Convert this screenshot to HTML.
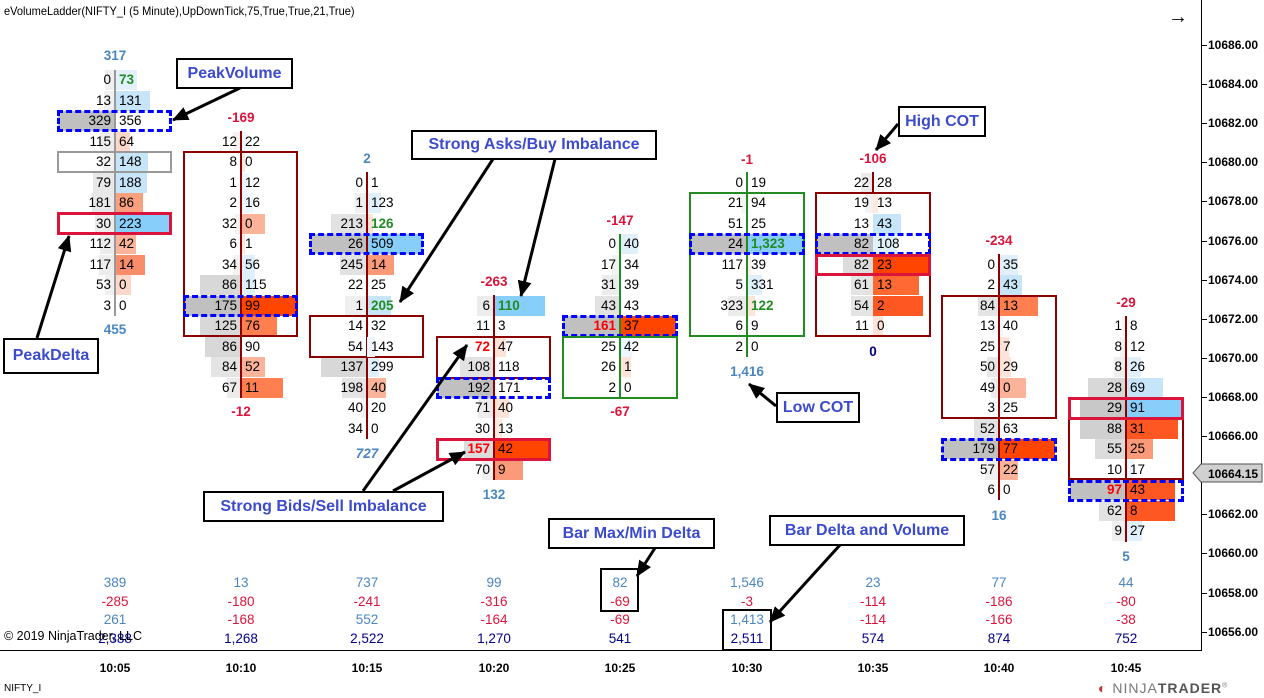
<!DOCTYPE html>
<html><head><meta charset="utf-8"><style>
body{margin:0;width:1264px;height:698px;background:#fff;position:relative;overflow:hidden;font-family:"Liberation Sans",Arial,sans-serif;}
.t{position:absolute;font-size:12px;color:#000;white-space:nowrap}
.c{position:absolute;top:0;width:120px;height:600px}
.r{position:absolute;left:0;width:120px;height:20px;font-size:13.5px;line-height:20px}
.r i{position:absolute;top:0;height:20px}
.bb{right:60px}.ab{left:60px}
.bt{position:absolute;right:64px}.at{position:absolute;left:64px}
.ln{position:absolute;left:59px;width:2px;z-index:3}
.bx{position:absolute;left:2px;width:110px;box-sizing:border-box;z-index:4}
.lb{position:absolute;width:120px;text-align:center;font-weight:bold;font-size:13.5px}
.g{color:#228b22;font-weight:bold}.rd{color:#f00;font-weight:bold}
.cb{position:absolute;border:2px solid #000;background:#fff;color:#3b4bcc;font-weight:bold;font-size:16px;box-sizing:border-box;text-align:center}
.s{position:absolute;width:120px;text-align:center;font-size:13.5px}
.bl{color:#4a86c0}.re{color:#dc143c}.nv{color:#00008b}
.pl{position:absolute;left:1208px;font-size:12px;font-weight:bold}
.tk{position:absolute;left:1202px;width:5px;height:1px;background:#000}
.tm{position:absolute;font-size:12px;font-weight:bold;width:60px;text-align:center;top:661px}
</style></head><body>
<div class="t" style="left:4px;top:4px;transform:scaleX(0.92);transform-origin:left">eVolumeLadder(NIFTY_I (5 Minute),UpDownTick,75,True,True,21,True)</div>
<div class="t" style="left:1168px;top:6px;font-size:20px">→</div>

<div style="position:absolute;left:1201px;top:0;width:1px;height:650px;background:#000"></div>
<div style="position:absolute;left:0;top:650px;width:1202px;height:1px;background:#000"></div>
<div class="tk" style="top:45px"></div><div class="pl" style="top:38px">10686.00</div>
<div class="tk" style="top:84px"></div><div class="pl" style="top:77px">10684.00</div>
<div class="tk" style="top:123px"></div><div class="pl" style="top:116px">10682.00</div>
<div class="tk" style="top:162px"></div><div class="pl" style="top:155px">10680.00</div>
<div class="tk" style="top:201px"></div><div class="pl" style="top:194px">10678.00</div>
<div class="tk" style="top:241px"></div><div class="pl" style="top:234px">10676.00</div>
<div class="tk" style="top:280px"></div><div class="pl" style="top:273px">10674.00</div>
<div class="tk" style="top:319px"></div><div class="pl" style="top:312px">10672.00</div>
<div class="tk" style="top:358px"></div><div class="pl" style="top:351px">10670.00</div>
<div class="tk" style="top:397px"></div><div class="pl" style="top:390px">10668.00</div>
<div class="tk" style="top:436px"></div><div class="pl" style="top:429px">10666.00</div>
<div class="tk" style="top:514px"></div><div class="pl" style="top:507px">10662.00</div>
<div class="tk" style="top:553px"></div><div class="pl" style="top:546px">10660.00</div>
<div class="tk" style="top:593px"></div><div class="pl" style="top:586px">10658.00</div>
<div class="tk" style="top:632px"></div><div class="pl" style="top:625px">10656.00</div>
<svg style="position:absolute;left:1192px;top:462px" width="72" height="22"><polygon points="1,11 9,2 70,2 70,20 9,20" fill="#d0d0d0" stroke="#555"/><text x="16" y="16" font-family="Liberation Sans" font-size="12" font-weight="bold">10664.15</text></svg>

<!-- Col1 -->
<div class="c" style="left:55px">
<div class="lb bl" style="top:48px">317</div>
<div class="ln" style="top:70px;height:246px;background:#999"></div>
<div class="r" style="top:70px"><i class="bb" style="width:10px;background:#f0f0f0"></i><i class="ab" style="width:22px;background:#e2f1fc"></i><span class="bt">0</span><span class="at g">73</span></div>
<div class="r" style="top:90.5px"><i class="bb" style="width:11px;background:#f0f0f0"></i><i class="ab" style="width:35px;background:#c6e5f9"></i><span class="bt">13</span><span class="at">131</span></div>
<div class="r" style="top:111px"><i class="bb" style="width:57px;background:#c0c0c0"></i><span class="bt">329</span><span class="at">356</span></div>
<div class="r" style="top:131.5px"><i class="bb" style="width:15px;background:#ececec"></i><i class="ab" style="width:15px;background:#fcd8ca"></i><span class="bt">115</span><span class="at">64</span></div>
<div class="r" style="top:152px"><i class="bb" style="width:12px;background:#f0f0f0"></i><i class="ab" style="width:33px;background:#c6e5f9"></i><span class="bt">32</span><span class="at">148</span></div>
<div class="r" style="top:172.5px"><i class="bb" style="width:22px;background:#e8e8e8"></i><i class="ab" style="width:32px;background:#c6e5f9"></i><span class="bt">79</span><span class="at">188</span></div>
<div class="r" style="top:193px"><i class="bb" style="width:23px;background:#e8e8e8"></i><i class="ab" style="width:28px;background:#f9a07e"></i><span class="bt">181</span><span class="at">86</span></div>
<div class="r" style="top:213.5px"><i class="bb" style="width:20px;background:#ececec"></i><i class="ab" style="width:55px;background:#87cefa"></i><span class="bt">30</span><span class="at">223</span></div>
<div class="r" style="top:234px"><i class="bb" style="width:15px;background:#ececec"></i><i class="ab" style="width:21px;background:#fbb49a"></i><span class="bt">112</span><span class="at">42</span></div>
<div class="r" style="top:254.5px"><i class="bb" style="width:16px;background:#ececec"></i><i class="ab" style="width:30px;background:#f98d6a"></i><span class="bt">117</span><span class="at">14</span></div>
<div class="r" style="top:275px"><i class="bb" style="width:10px;background:#f0f0f0"></i><i class="ab" style="width:16px;background:#fcd8ca"></i><span class="bt">53</span><span class="at">0</span></div>
<div class="r" style="top:295.5px"><span class="bt">3</span><span class="at">0</span></div>
<div class="bx" style="top:110px;height:22px;border:3px dashed #0000ff;width:115px"></div>
<div class="bx" style="top:151px;height:22px;border:2px solid #999;width:115px"></div>
<div class="bx" style="top:212px;height:23px;border:3px solid #dc143c;width:115px"></div>
<div class="lb bl" style="top:322px">455</div>
</div>

<!-- Col2 -->
<div class="c" style="left:181px">
<div class="lb re" style="top:110px">-169</div>
<div class="ln" style="top:131px;height:267px;background:#8b0000"></div>
<div class="r" style="top:131.5px"><i class="bb" style="width:8px;background:#f2f2f2"></i><i class="ab" style="width:6px;background:#eef7fd"></i><span class="bt">12</span><span class="at">22</span></div>
<div class="r" style="top:152px"><i class="ab" style="width:4px;background:#fde9e0"></i><span class="bt">8</span><span class="at">0</span></div>
<div class="r" style="top:172.5px"><i class="ab" style="width:8px;background:#eef7fd"></i><span class="bt">1</span><span class="at">12</span></div>
<div class="r" style="top:193px"><i class="ab" style="width:12px;background:#eef7fd"></i><span class="bt">2</span><span class="at">16</span></div>
<div class="r" style="top:213.5px"><i class="bb" style="width:6px;background:#f2f2f2"></i><i class="ab" style="width:24px;background:#fbb49a"></i><span class="bt">32</span><span class="at">0</span></div>
<div class="r" style="top:234px"><i class="ab" style="width:4px;background:#fde9e0"></i><span class="bt">6</span><span class="at">1</span></div>
<div class="r" style="top:254.5px"><i class="bb" style="width:8px;background:#f2f2f2"></i><i class="ab" style="width:14px;background:#dff0fb"></i><span class="bt">34</span><span class="at">56</span></div>
<div class="r" style="top:275px"><i class="bb" style="width:41px;background:#d8d8d8"></i><i class="ab" style="width:14px;background:#dff0fb"></i><span class="bt">86</span><span class="at">115</span></div>
<div class="r" style="top:295.5px"><i class="bb" style="width:56px;background:#c0c0c0"></i><i class="ab" style="width:55px;background:#ff4500"></i><span class="bt">175</span><span class="at">99</span></div>
<div class="r" style="top:316px"><i class="bb" style="width:41px;background:#d8d8d8"></i><i class="ab" style="width:36px;background:#ff7f50"></i><span class="bt">125</span><span class="at">76</span></div>
<div class="r" style="top:336.5px"><i class="bb" style="width:36px;background:#d8d8d8"></i><span class="bt">86</span><span class="at">90</span></div>
<div class="r" style="top:357px"><i class="bb" style="width:30px;background:#e4e4e4"></i><i class="ab" style="width:24px;background:#fbb49a"></i><span class="bt">84</span><span class="at">52</span></div>
<div class="r" style="top:377.5px"><i class="bb" style="width:14px;background:#ececec"></i><i class="ab" style="width:42px;background:#ff7f50"></i><span class="bt">67</span><span class="at">11</span></div>
<div class="bx" style="top:151px;height:186px;border:2px solid #8b0000;width:115px"></div>
<div class="bx" style="top:295px;height:22px;border:3px dashed #0000ff;width:115px"></div>
<div class="lb re" style="top:404px">-12</div>
</div>

<!-- Col3 -->
<div class="c" style="left:307px">
<div class="lb bl" style="top:151px">2</div>
<div class="ln" style="top:172px;height:267px;background:#8b0000"></div>
<div class="r" style="top:172.5px"><span class="bt">0</span><span class="at">1</span></div>
<div class="r" style="top:193px"><i class="bb" style="width:12px;background:#efefef"></i><i class="ab" style="width:14px;background:#dff0fb"></i><span class="bt">1</span><span class="at">123</span></div>
<div class="r" style="top:213.5px"><i class="bb" style="width:36px;background:#e2e2e2"></i><i class="ab" style="width:6px;background:#fde3d8"></i><span class="bt">213</span><span class="at g">126</span></div>
<div class="r" style="top:234px"><i class="bb" style="width:57px;background:#c0c0c0"></i><i class="ab" style="width:56px;background:#87cefa"></i><span class="bt">26</span><span class="at">509</span></div>
<div class="r" style="top:254.5px"><i class="bb" style="width:27px;background:#e2e2e2"></i><i class="ab" style="width:27px;background:#fa9a78"></i><span class="bt">245</span><span class="at">14</span></div>
<div class="r" style="top:275px"><span class="bt">22</span><span class="at">25</span></div>
<div class="r" style="top:295.5px"><i class="bb" style="width:22px;background:#efefef"></i><i class="ab" style="width:24px;background:#c6e5f9"></i><span class="bt">1</span><span class="at g">205</span></div>
<div class="r" style="top:316px;z-index:5"><span class="bt">14</span><span class="at">32</span></div>
<div class="r" style="top:336.5px;z-index:5"><i class="ab" style="width:8px;background:#eef7fd"></i><span class="bt">54</span><span class="at">143</span></div>
<div class="r" style="top:357px"><i class="bb" style="width:46px;background:#d8d8d8"></i><i class="ab" style="width:12px;background:#dff0fb"></i><span class="bt">137</span><span class="at">299</span></div>
<div class="r" style="top:377.5px"><i class="bb" style="width:25px;background:#e4e4e4"></i><i class="ab" style="width:19px;background:#fbb49a"></i><span class="bt">198</span><span class="at">40</span></div>
<div class="r" style="top:398px"><i class="bb" style="width:6px;background:#f2f2f2"></i><span class="bt">40</span><span class="at">20</span></div>
<div class="r" style="top:418.5px"><span class="bt">34</span><span class="at">0</span></div>
<div class="bx" style="top:233px;height:22px;border:3px dashed #0000ff;width:115px"></div>
<div class="bx" style="top:315px;height:43px;border:2px solid #8b0000;width:115px"></div>
<div class="lb bl" style="top:446px;font-style:italic">727</div>
</div>

<!-- Col4 -->
<div class="c" style="left:434px">
<div class="lb re" style="top:274px">-263</div>
<div class="ln" style="top:295px;height:185px;background:#8b0000"></div>
<div class="r" style="top:295.5px"><i class="bb" style="width:17px;background:#ececec"></i><i class="ab" style="width:51px;background:#87cefa"></i><span class="bt">6</span><span class="at g">110</span></div>
<div class="r" style="top:316px"><span class="bt">11</span><span class="at">3</span></div>
<div class="r" style="top:336.5px"><i class="ab" style="width:12px;background:#fde3d8"></i><span class="bt rd">72</span><span class="at">47</span></div>
<div class="r" style="top:357px"><i class="bb" style="width:34px;background:#e2e2e2"></i><span class="bt">108</span><span class="at">118</span></div>
<div class="r" style="top:377.5px"><i class="bb" style="width:57px;background:#c0c0c0"></i><span class="bt">192</span><span class="at">171</span></div>
<div class="r" style="top:398px"><i class="bb" style="width:16px;background:#ececec"></i><i class="ab" style="width:15px;background:#fde3d8"></i><span class="bt">71</span><span class="at">40</span></div>
<div class="r" style="top:418.5px"><i class="ab" style="width:8px;background:#fde9e0"></i><span class="bt">30</span><span class="at">13</span></div>
<div class="r" style="top:439px"><i class="bb" style="width:30px;background:#dcdcdc"></i><i class="ab" style="width:56px;background:#ff4500"></i><span class="bt rd">157</span><span class="at">42</span></div>
<div class="r" style="top:459.5px"><i class="bb" style="width:12px;background:#f0f0f0"></i><i class="ab" style="width:29px;background:#fa9a78"></i><span class="bt">70</span><span class="at">9</span></div>
<div class="bx" style="top:336px;height:43px;border:2px solid #8b0000;width:115px"></div>
<div class="bx" style="top:377px;height:22px;border:3px dashed #0000ff;width:115px"></div>
<div class="bx" style="top:438px;height:23px;border:3px solid #dc143c;width:115px"></div>
<div class="lb bl" style="top:487px">132</div>
</div>

<!-- Col5 -->
<div class="c" style="left:560px">
<div class="lb re" style="top:213px">-147</div>
<div class="ln" style="top:234px;height:164px;background:#228b22"></div>
<div class="r" style="top:234px"><i class="bb" style="width:4px;background:#f5f5f5"></i><i class="ab" style="width:18px;background:#dff0fb"></i><span class="bt">0</span><span class="at">40</span></div>
<div class="r" style="top:254.5px"><i class="bb" style="width:8px;background:#f2f2f2"></i><span class="bt">17</span><span class="at">34</span></div>
<div class="r" style="top:275px"><i class="bb" style="width:18px;background:#ececec"></i><span class="bt">31</span><span class="at">39</span></div>
<div class="r" style="top:295.5px"><i class="bb" style="width:25px;background:#e2e2e2"></i><span class="bt">43</span><span class="at">43</span></div>
<div class="r" style="top:316px"><i class="bb" style="width:57px;background:#c0c0c0"></i><i class="ab" style="width:56px;background:#ff4500"></i><span class="bt rd">161</span><span class="at">37</span></div>
<div class="r" style="top:336.5px"><i class="ab" style="width:12px;background:#eef7fd"></i><span class="bt">25</span><span class="at">42</span></div>
<div class="r" style="top:357px"><i class="ab" style="width:11px;background:#fde3d8"></i><span class="bt">26</span><span class="at">1</span></div>
<div class="r" style="top:377.5px"><span class="bt">2</span><span class="at">0</span></div>
<div class="bx" style="top:315px;height:22px;border:3px dashed #0000ff;width:116px"></div>
<div class="bx" style="top:336px;height:63px;border:2px solid #228b22;width:116px"></div>
<div class="lb re" style="top:404px">-67</div>
</div>

<!-- Col6 -->
<div class="c" style="left:687px">
<div class="lb re" style="top:152px">-1</div>
<div class="ln" style="top:172px;height:185px;background:#228b22"></div>
<div class="r" style="top:172.5px"><span class="bt">0</span><span class="at">19</span></div>
<div class="r" style="top:193px"><i class="bb" style="width:6px;background:#f5f5f5"></i><span class="bt">21</span><span class="at">94</span></div>
<div class="r" style="top:213.5px"><span class="bt">51</span><span class="at">25</span></div>
<div class="r" style="top:234px"><i class="bb" style="width:57px;background:#c0c0c0"></i><i class="ab" style="width:56px;background:#87cefa"></i><span class="bt">24</span><span class="at g">1,323</span></div>
<div class="r" style="top:254.5px"><i class="ab" style="width:4px;background:#fdeee8"></i><span class="bt">117</span><span class="at">39</span></div>
<div class="r" style="top:275px"><i class="ab" style="width:15px;background:#dff0fb"></i><span class="bt">5</span><span class="at">331</span></div>
<div class="r" style="top:295.5px"><i class="bb" style="width:19px;background:#ececec"></i><i class="ab" style="width:8px;background:#fde3d8"></i><span class="bt">323</span><span class="at g">122</span></div>
<div class="r" style="top:316px"><span class="bt">6</span><span class="at">9</span></div>
<div class="r" style="top:336.5px"><span class="bt">2</span><span class="at">0</span></div>
<div class="bx" style="top:192px;height:145px;border:2px solid #228b22;width:116px"></div>
<div class="bx" style="top:233px;height:22px;border:3px dashed #0000ff;width:116px"></div>
<div class="lb bl" style="top:364px">1,416</div>
</div>

<!-- Col7 -->
<div class="c" style="left:813px">
<div class="lb re" style="top:151px">-106</div>
<div class="ln" style="top:172px;height:20px;background:#8b0000"></div>
<div class="r" style="top:172.5px"><i class="bb" style="width:12px;background:#ececec"></i><span class="bt">22</span><span class="at">28</span></div>
<div class="r" style="top:193px"><i class="bb" style="width:8px;background:#f2f2f2"></i><i class="ab" style="width:5px;background:#fde9e0"></i><span class="bt">19</span><span class="at">13</span></div>
<div class="r" style="top:213.5px"><i class="ab" style="width:28px;background:#c6e5f9"></i><span class="bt">13</span><span class="at">43</span></div>
<div class="r" style="top:234px"><i class="bb" style="width:57px;background:#c0c0c0"></i><i class="ab" style="width:24px;background:#dff0fb"></i><span class="bt">82</span><span class="at">108</span></div>
<div class="r" style="top:254.5px"><i class="bb" style="width:30px;background:#dcdcdc"></i><i class="ab" style="width:56px;background:#ff4500"></i><span class="bt">82</span><span class="at">23</span></div>
<div class="r" style="top:275px"><i class="bb" style="width:22px;background:#e4e4e4"></i><i class="ab" style="width:46px;background:#ff6a33"></i><span class="bt">61</span><span class="at">13</span></div>
<div class="r" style="top:295.5px"><i class="bb" style="width:22px;background:#e4e4e4"></i><i class="ab" style="width:50px;background:#ff5722"></i><span class="bt">54</span><span class="at">2</span></div>
<div class="r" style="top:316px"><i class="ab" style="width:10px;background:#fde3d8"></i><span class="bt">11</span><span class="at">0</span></div>
<div class="bx" style="top:192px;height:145px;border:2px solid #8b0000;width:116px"></div>
<div class="bx" style="top:233px;height:22px;border:3px dashed #0000ff;width:116px"></div>
<div class="bx" style="top:254px;height:22px;border:3px solid #dc143c;width:116px"></div>
<div class="lb nv" style="top:344px">0</div>
</div>

<!-- Col8 -->
<div class="c" style="left:939px">
<div class="lb re" style="top:233px">-234</div>
<div class="ln" style="top:254px;height:246px;background:#8b0000"></div>
<div class="r" style="top:254.5px"><i class="ab" style="width:19px;background:#dff0fb"></i><span class="bt">0</span><span class="at">35</span></div>
<div class="r" style="top:275px"><i class="ab" style="width:23px;background:#c6e5f9"></i><span class="bt">2</span><span class="at">43</span></div>
<div class="r" style="top:295.5px"><i class="bb" style="width:21px;background:#e4e4e4"></i><i class="ab" style="width:39px;background:#ff7f50"></i><span class="bt">84</span><span class="at">13</span></div>
<div class="r" style="top:316px"><i class="ab" style="width:4px;background:#eef7fd"></i><span class="bt">13</span><span class="at">40</span></div>
<div class="r" style="top:336.5px"><i class="ab" style="width:10px;background:#fde3d8"></i><span class="bt">25</span><span class="at">7</span></div>
<div class="r" style="top:357px"><i class="bb" style="width:12px;background:#e8e8e8"></i><i class="ab" style="width:12px;background:#fde3d8"></i><span class="bt">50</span><span class="at">29</span></div>
<div class="r" style="top:377.5px"><i class="bb" style="width:8px;background:#ececec"></i><i class="ab" style="width:27px;background:#fbb49a"></i><span class="bt">49</span><span class="at">0</span></div>
<div class="r" style="top:398px"><i class="ab" style="width:4px;background:#eef7fd"></i><span class="bt">3</span><span class="at">25</span></div>
<div class="r" style="top:418.5px"><i class="bb" style="width:25px;background:#e2e2e2"></i><span class="bt">52</span><span class="at">63</span></div>
<div class="r" style="top:439px"><i class="bb" style="width:57px;background:#c0c0c0"></i><i class="ab" style="width:56px;background:#ff4500"></i><span class="bt">179</span><span class="at">77</span></div>
<div class="r" style="top:459.5px"><i class="bb" style="width:14px;background:#efefef"></i><i class="ab" style="width:19px;background:#fbb49a"></i><span class="bt">57</span><span class="at">22</span></div>
<div class="r" style="top:480px"><span class="bt">6</span><span class="at">0</span></div>
<div class="bx" style="top:295px;height:124px;border:2px solid #8b0000;width:116px"></div>
<div class="bx" style="top:438px;height:23px;border:3px dashed #0000ff;width:116px"></div>
<div class="lb bl" style="top:508px">16</div>
</div>

<!-- Col9 -->
<div class="c" style="left:1066px">
<div class="lb re" style="top:295px">-29</div>
<div class="ln" style="top:316px;height:226px;background:#8b0000"></div>
<div class="r" style="top:316px"><i class="bb" style="width:4px;background:#f5f5f5"></i><span class="bt">1</span><span class="at">8</span></div>
<div class="r" style="top:336.5px"><i class="bb" style="width:6px;background:#f2f2f2"></i><span class="bt">8</span><span class="at">12</span></div>
<div class="r" style="top:357px"><i class="bb" style="width:12px;background:#eeeeee"></i><i class="ab" style="width:15px;background:#dff0fb"></i><span class="bt">8</span><span class="at">26</span></div>
<div class="r" style="top:377.5px"><i class="bb" style="width:38px;background:#d8d8d8"></i><i class="ab" style="width:37px;background:#c6e5f9"></i><span class="bt">28</span><span class="at">69</span></div>
<div class="r" style="top:398px"><i class="bb" style="width:46px;background:#c8c8c8"></i><i class="ab" style="width:56px;background:#87cefa"></i><span class="bt">29</span><span class="at">91</span></div>
<div class="r" style="top:418.5px"><i class="bb" style="width:46px;background:#d0d0d0"></i><i class="ab" style="width:52px;background:#ff5722"></i><span class="bt">88</span><span class="at">31</span></div>
<div class="r" style="top:439px"><i class="bb" style="width:31px;background:#dcdcdc"></i><i class="ab" style="width:27px;background:#fa9a78"></i><span class="bt">55</span><span class="at">25</span></div>
<div class="r" style="top:459.5px"><i class="ab" style="width:8px;background:#eef7fd"></i><span class="bt">10</span><span class="at">17</span></div>
<div class="r" style="top:480px"><i class="bb" style="width:56px;background:#c0c0c0"></i><i class="ab" style="width:49px;background:#ff5722"></i><span class="bt rd">97</span><span class="at">43</span></div>
<div class="r" style="top:500.5px"><i class="bb" style="width:27px;background:#e2e2e2"></i><i class="ab" style="width:49px;background:#ff5722"></i><span class="bt">62</span><span class="at">8</span></div>
<div class="r" style="top:521px"><i class="bb" style="width:14px;background:#efefef"></i><i class="ab" style="width:16px;background:#dff0fb"></i><span class="bt">9</span><span class="at">27</span></div>
<div class="bx" style="top:397px;height:83px;border:2px solid #8b0000;width:116px"></div>
<div class="bx" style="top:397px;height:23px;border:3px solid #dc143c;width:116px"></div>
<div class="bx" style="top:480px;height:22px;border:3px dashed #0000ff;width:116px"></div>
<div class="lb bl" style="top:549px">5</div>
</div>

<div class="s bl" style="left:55px;top:575px">389</div><div class="s re" style="left:55px;top:594px">-285</div><div class="s bl" style="left:55px;top:612px">261</div><div class="s nv" style="left:55px;top:631px">2,388</div>
<div class="s bl" style="left:181px;top:575px">13</div><div class="s re" style="left:181px;top:594px">-180</div><div class="s re" style="left:181px;top:612px">-168</div><div class="s nv" style="left:181px;top:631px">1,268</div>
<div class="s bl" style="left:307px;top:575px">737</div><div class="s re" style="left:307px;top:594px">-241</div><div class="s bl" style="left:307px;top:612px">552</div><div class="s nv" style="left:307px;top:631px">2,522</div>
<div class="s bl" style="left:434px;top:575px">99</div><div class="s re" style="left:434px;top:594px">-316</div><div class="s re" style="left:434px;top:612px">-164</div><div class="s nv" style="left:434px;top:631px">1,270</div>
<div class="s bl" style="left:560px;top:575px">82</div><div class="s re" style="left:560px;top:594px">-69</div><div class="s re" style="left:560px;top:612px">-69</div><div class="s nv" style="left:560px;top:631px">541</div>
<div class="s bl" style="left:687px;top:575px">1,546</div><div class="s re" style="left:687px;top:594px">-3</div><div class="s bl" style="left:687px;top:612px">1,413</div><div class="s nv" style="left:687px;top:631px">2,511</div>
<div class="s bl" style="left:813px;top:575px">23</div><div class="s re" style="left:813px;top:594px">-114</div><div class="s re" style="left:813px;top:612px">-114</div><div class="s nv" style="left:813px;top:631px">574</div>
<div class="s bl" style="left:939px;top:575px">77</div><div class="s re" style="left:939px;top:594px">-186</div><div class="s re" style="left:939px;top:612px">-166</div><div class="s nv" style="left:939px;top:631px">874</div>
<div class="s bl" style="left:1066px;top:575px">44</div><div class="s re" style="left:1066px;top:594px">-80</div><div class="s re" style="left:1066px;top:612px">-38</div><div class="s nv" style="left:1066px;top:631px">752</div>
<div class="t" style="left:4px;top:629px;font-size:12.5px;background:transparent">© 2019 NinjaTrader, LLC</div>
<div style="position:absolute;left:600px;top:568px;width:39px;height:44px;border:2px solid #000;box-sizing:border-box"></div>
<div style="position:absolute;left:722px;top:609px;width:50px;height:42px;border:2px solid #000;box-sizing:border-box"></div>

<div class="tm" style="left:85px">10:05</div><div class="tm" style="left:211px">10:10</div><div class="tm" style="left:337px">10:15</div><div class="tm" style="left:464px">10:20</div><div class="tm" style="left:590px">10:25</div><div class="tm" style="left:717px">10:30</div><div class="tm" style="left:843px">10:35</div><div class="tm" style="left:969px">10:40</div><div class="tm" style="left:1096px">10:45</div>
<div class="t" style="left:4px;top:683px;font-size:10px">NIFTY_I</div>
<div class="t" style="left:1098px;top:680px;font-size:14px;color:#777;letter-spacing:1px"><span style="color:#b33">◐</span> NINJA<b style="color:#555">TRADER</b><sup style="font-size:7px">®</sup></div>

<svg style="position:absolute;left:0;top:0;z-index:5" width="1264" height="698">
<defs><marker id="m" markerWidth="16" markerHeight="14" refX="15" refY="7" orient="auto" markerUnits="userSpaceOnUse"><path d="M0,0 L16,7 L0,14 z" fill="#000"/></marker></defs>
<g stroke="#000" stroke-width="3" marker-end="url(#m)">
<line x1="240" y1="88" x2="173" y2="120"/>
<line x1="37" y1="338" x2="69" y2="236"/>
<line x1="493" y1="159" x2="400" y2="302"/>
<line x1="555" y1="159" x2="521" y2="296"/>
<line x1="363" y1="491" x2="467" y2="345"/>
<line x1="393" y1="491" x2="465" y2="452"/>
<line x1="898" y1="124" x2="876" y2="150"/>
<line x1="776" y1="406" x2="749" y2="384"/>
<line x1="655" y1="548" x2="637" y2="576"/>
<line x1="840" y1="545" x2="770" y2="622"/>
</g></svg>

<div class="cb" style="left:176px;top:58px;width:117px;height:31px;line-height:27px;z-index:6">PeakVolume</div>
<div class="cb" style="left:3px;top:338px;width:96px;height:36px;line-height:32px;z-index:6">PeakDelta</div>
<div class="cb" style="left:411px;top:130px;width:246px;height:30px;line-height:26px;z-index:6">Strong Asks/Buy Imbalance</div>
<div class="cb" style="left:203px;top:491px;width:241px;height:31px;line-height:27px;z-index:6">Strong Bids/Sell Imbalance</div>
<div class="cb" style="left:898px;top:106px;width:88px;height:31px;line-height:27px;z-index:6">High COT</div>
<div class="cb" style="left:776px;top:392px;width:84px;height:31px;line-height:27px;z-index:6">Low COT</div>
<div class="cb" style="left:548px;top:518px;width:167px;height:31px;line-height:27px;z-index:6">Bar Max/Min Delta</div>
<div class="cb" style="left:769px;top:515px;width:196px;height:31px;line-height:27px;z-index:6">Bar Delta and Volume</div>
</body></html>
